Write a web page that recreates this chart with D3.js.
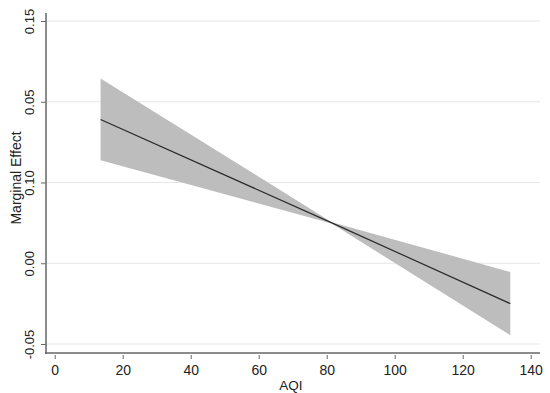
<!DOCTYPE html>
<html><head><meta charset="utf-8">
<script src="https://cdn.jsdelivr.net/npm/d3@7/dist/d3.min.js"></script>
<style>body{margin:0;background:#fff}svg{display:block}</style>
</head><body>
<script>
const aqi = [13.5, 81.5, 134];
const effect = [0.089, 0.025, -0.025];
const lower = [0.0638, 0.0246, -0.0446];
const upper = [0.1144, 0.0254, -0.0054];
const xTicks = [0, 20, 40, 60, 80, 100, 120, 140];
const yTickValues = [0.15, 0.10, 0.05, 0.00, -0.05];
const yTickLabels = ["0.15", "0.05", "0.10", "0.00", "-0.05"];

const W = 550, H = 393;
const svg = d3.select("body").append("svg").attr("width", W).attr("height", H);
const font = "'Liberation Sans', Arial, sans-serif";

const x = d3.scaleLinear().domain([0, 140]).range([54.7, 530.7]);
const y = d3.scaleLinear().domain([-0.05, 0.15]).range([344, 21]);

// grid
svg.append("g").selectAll("line").data(yTickValues).join("line")
  .attr("x1", 47).attr("x2", 540)
  .attr("y1", d => y(d)).attr("y2", d => y(d))
  .attr("stroke", "#e6e6e6").attr("stroke-width", 1);

const pts = aqi.map((a, i) => ({a, e: effect[i], lo: lower[i], hi: upper[i]}));
svg.append("path").datum(pts)
  .attr("d", d3.area().x(d => x(d.a)).y0(d => y(d.lo)).y1(d => y(d.hi)))
  .attr("fill", "#bdbdbd");
svg.append("path").datum(pts)
  .attr("d", d3.line().x(d => x(d.a)).y(d => y(d.e)))
  .attr("fill", "none").attr("stroke", "#2a2a2a").attr("stroke-width", 1.2);

// axes
const yAxis = d3.axisLeft(y).tickValues(yTickValues)
  .tickFormat((d, i) => yTickLabels[i]).tickSize(5).tickPadding(5);
const gy = svg.append("g").attr("transform", "translate(46,0)").call(yAxis);
gy.select(".domain").remove();
gy.append("line").attr("x1", 0).attr("x2", 0).attr("y1", 13).attr("y2", 354)
  .attr("stroke", "#666").attr("stroke-width", 1.5);
gy.selectAll(".tick line").attr("stroke", "#666");
gy.selectAll(".tick text")
  .attr("transform", "rotate(-90)")
  .attr("x", 0).attr("y", -12).attr("dy", 0)
  .attr("text-anchor", "middle")
  .style("font-family", font).style("font-size", "13px").attr("fill", "#222");

const xAxis = d3.axisBottom(x).tickValues(xTicks).tickSize(5).tickPadding(5);
const gx = svg.append("g").attr("transform", "translate(0,353)").call(xAxis);
gx.select(".domain").remove();
gx.append("line").attr("x1", 45).attr("x2", 540).attr("y1", 0).attr("y2", 0)
  .attr("stroke", "#666").attr("stroke-width", 1.5);
gx.selectAll(".tick line").attr("stroke", "#666").attr("y1", 2).attr("y2", 6);
gx.selectAll(".tick text").attr("y", 22).attr("dy", 0)
  .style("font-family", font).style("font-size", "14px").attr("fill", "#222");

svg.append("text").attr("x", 291).attr("y", 390).attr("text-anchor", "middle")
  .style("font-family", font).style("font-size", "13.5px").attr("fill", "#222").text("AQI");
svg.append("text").attr("transform", "translate(21,178) rotate(-90)")
  .attr("text-anchor", "middle")
  .style("font-family", font).style("font-size", "14px").attr("fill", "#222").text("Marginal Effect");
</script>
</body></html>
